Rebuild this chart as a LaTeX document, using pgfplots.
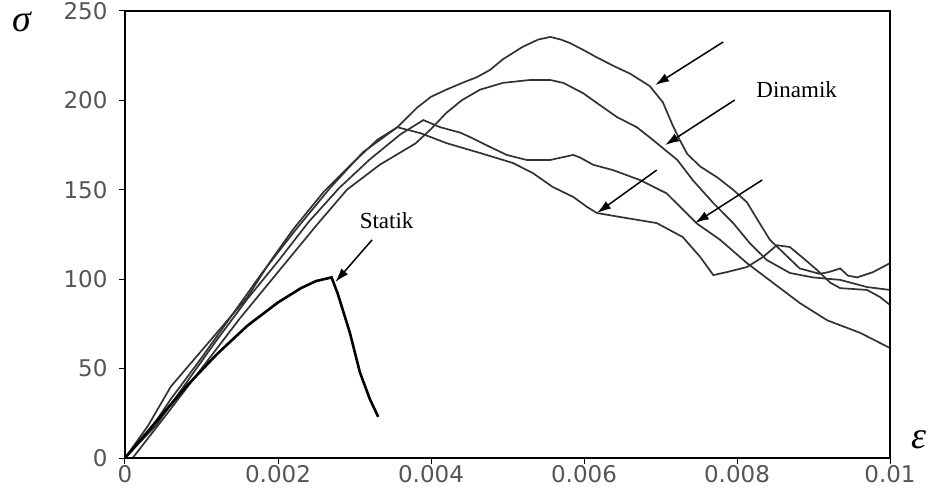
\documentclass[border=0pt]{standalone}
\usepackage{fontspec}
\setmainfont{Liberation Serif}
\newfontfamily\tickfont{DejaVu Sans}
\usepackage{pgfplots}
\pgfplotsset{compat=1.18}
\usetikzlibrary{arrows.meta}
\definecolor{curve}{RGB}{50,50,50}
\definecolor{ticklab}{RGB}{85,85,85}
\begin{document}
\begin{tikzpicture}
\useasboundingbox (-125pt,-32pt) rectangle (808pt,458pt);
\begin{axis}[
  at={(0pt,0pt)}, anchor=south west,
  scale only axis, width=765pt, height=447pt,
  xmin=0, xmax=0.01, ymin=0, ymax=250,
  axis line style={line width=2.8pt},
  xtick={0,0.002,0.004,0.006,0.008,0.01},
  xticklabels={0,0.002,0.004,0.006,0.008,0.01},
  ytick={0,50,100,150,200,250},
  tick style={black, line width=1pt},
  major tick length=6pt,
  tick align=outside,
  xtick pos=bottom, ytick pos=left,
  ticklabel style={font=\tickfont\fontsize{23}{26}\selectfont, text=ticklab},
  yticklabel style={xshift=-8pt},
  xticklabel style={yshift=2pt},
  /pgf/number format/assume math mode=true,
  scaled x ticks=false,
  clip=false,
]
% Curve A (highest peak)
\addplot[curve, line width=1.7pt] coordinates {
(0,0) (0.0003,14) (0.0006,33) (0.001,56) (0.0014,80) (0.0018,104) (0.0022,126)
(0.00268,151) (0.00311,171) (0.00356,185) (0.00382,196) (0.004,202) (0.0042,206)
(0.00442,210) (0.0046,213) (0.00477,217) (0.00494,223) (0.0052,230) (0.0054,234)
(0.00556,235.5) (0.0057,234) (0.00582,232) (0.006,228) (0.00617,224) (0.0064,219)
(0.0066,215) (0.00686,208) (0.00703,199) (0.00716,186) (0.00725,178) (0.00735,170)
(0.00752,163) (0.00774,157) (0.00795,150) (0.00813,143) (0.0083,131) (0.00843,122)
(0.00865,113) (0.00882,106) (0.00908,103) (0.0092,104) (0.00935,106) (0.00945,102)
(0.00957,101) (0.00978,104) (0.01,109)
};
% Curve B
\addplot[curve, line width=1.7pt] coordinates {
(0.0001,0) (0.0005,22) (0.001,50) (0.0015,78) (0.002,104) (0.0025,130) (0.0029,150)
(0.00333,164) (0.0038,176) (0.004,184) (0.0042,193) (0.0044,200) (0.00464,206)
(0.00494,209.8) (0.00529,211.4) (0.00556,211.4) (0.00573,209.8) (0.00599,204)
(0.00617,198.5) (0.00643,190.7) (0.00669,185) (0.00686,179.3) (0.00722,166.7)
(0.00742,155.5) (0.00769,142.6) (0.00795,131.4) (0.00817,120) (0.00839,110.7)
(0.00869,103.5) (0.00899,101) (0.00935,99.6) (0.0097,95.6) (0.01,94)
};
% Curve C (plateau)
\addplot[curve, line width=1.7pt] coordinates {
(0,0) (0.0004,18) (0.0008,42) (0.0012,66) (0.0016,89) (0.002,110) (0.0024,132)
(0.0028,151) (0.0032,167) (0.0036,181) (0.0039,189) (0.00412,185) (0.00438,182)
(0.00451,179.5) (0.00477,174) (0.00499,169.5) (0.00525,166.7) (0.00556,166.7)
(0.00586,169.5) (0.00595,168) (0.00612,164) (0.00638,161) (0.00673,155.5)
(0.00708,148) (0.00748,131) (0.00778,122) (0.00813,109) (0.00847,98)
(0.00882,86.7) (0.00918,77) (0.00961,70) (0.01,61.5)
};
% Curve D (dip and hump)
\addplot[curve, line width=1.7pt] coordinates {
(0,0) (0.0003,18) (0.0006,40) (0.0009,55) (0.0012,70) (0.0016,90) (0.0019,110)
(0.0022,128) (0.0026,149) (0.003,166) (0.0033,178) (0.00356,185) (0.00386,181.7)
(0.00421,176) (0.00464,170.6) (0.00507,165) (0.00533,159.4) (0.00559,151.6)
(0.00586,146) (0.00604,140.4) (0.00617,137) (0.00647,134.8) (0.00695,131.4)
(0.00729,123.6) (0.00752,112.4) (0.00769,102.3) (0.00787,104) (0.00813,106.8)
(0.00834,112.4) (0.00852,119) (0.00869,118) (0.00886,112) (0.00905,105)
(0.00922,98) (0.00935,95) (0.0097,94) (0.00987,90) (0.01,85.6)
};
% Static
\addplot[black, line width=2.6pt] coordinates {
(0,0) (0.0004,20) (0.0008,40) (0.0012,58) (0.0016,74) (0.002,87) (0.0023,95)
(0.0025,99) (0.0027,101) (0.00278,92) (0.00294,70) (0.00307,48) (0.0032,33)
(0.00331,23)
};
% frame
\draw[line width=2.8pt] (rel axis cs:0,0) rectangle (rel axis cs:1,1);
% arrows
\draw[-{Latex[length=14pt,width=9pt]}, line width=1.5pt] (axis cs:0.00782,232.7) -- (axis cs:0.00693,208.6);
\draw[-{Latex[length=14pt,width=9pt]}, line width=1.5pt] (axis cs:0.00797,200.2) -- (axis cs:0.00706,175);
\draw[-{Latex[length=14pt,width=9pt]}, line width=1.5pt] (axis cs:0.00695,161) -- (axis cs:0.00617,137);
\draw[-{Latex[length=14pt,width=9pt]}, line width=1.5pt] (axis cs:0.00833,155.5) -- (axis cs:0.00745,131.4);
\draw[-{Latex[length=14pt,width=9pt]}, line width=1.5pt] (axis cs:0.00323,122) -- (axis cs:0.00275,98.4);
\node[font=\fontsize{23}{26}\selectfont] at (axis cs:0.00342,132.5) {Statik};
\node[font=\fontsize{23}{26}\selectfont] at (axis cs:0.00878,205.8) {Dinamik};
\end{axis}
\node[font=\itshape\fontsize{38}{42}\selectfont] at (-103pt,436pt) {σ};
\node[font=\itshape\fontsize{38}{42}\selectfont] at (794pt,18pt) {ε};
\end{tikzpicture}
\end{document}
